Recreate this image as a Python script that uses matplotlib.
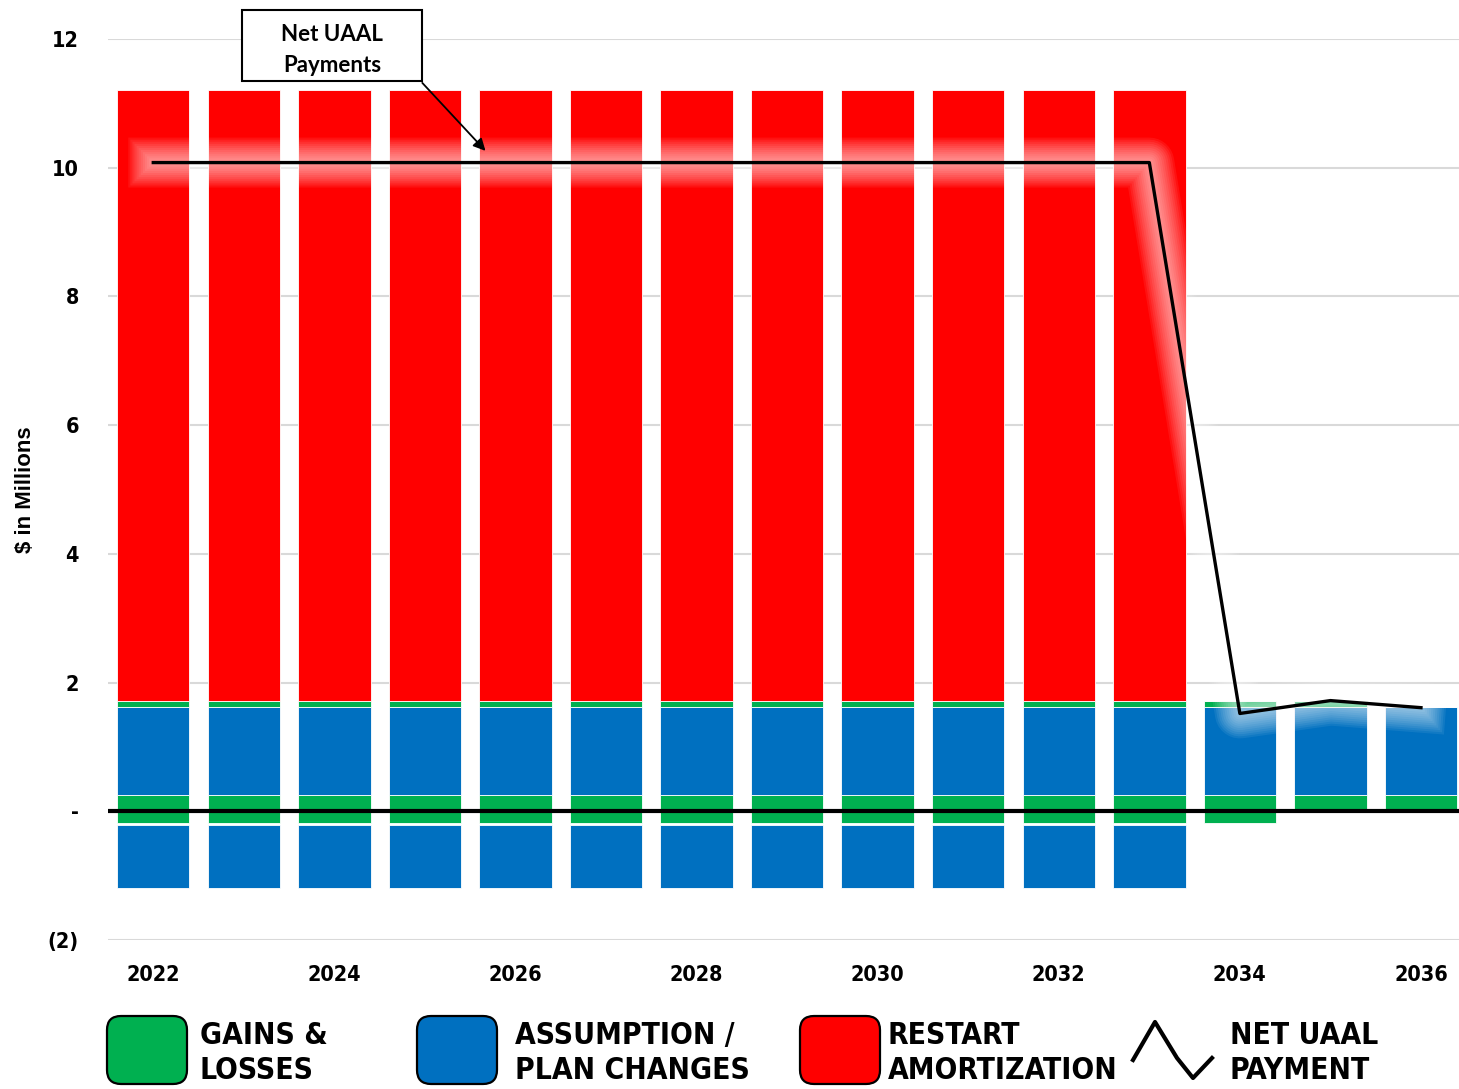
import matplotlib
matplotlib.use("Agg")
import matplotlib.pyplot as plt
import numpy as np
from matplotlib import patheffects as pe
from matplotlib.patches import FancyBboxPatch, Rectangle

# ---------------- data ----------------
years = list(range(2022, 2037))
gains_base = [0.25] * 15
assump_pos = [1.37] * 15
gains_top = [0.10] * 14 + [0.0]
restart = [9.48] * 12 + [0.0, 0.0, 0.0]
gains_neg = [-0.18] * 13 + [0.0, 0.0]
assump_neg = [-0.97] * 12 + [0.0, 0.0, 0.0]
net_uaal = [10.08] * 12 + [1.52, 1.72, 1.61]
xtick_years = [2022, 2024, 2026, 2028, 2030, 2032, 2034, 2036]
ytick_vals = [-2, 0, 2, 4, 6, 8, 10, 12]
ytick_labels = ["(2)", "-", "2", "4", "6", "8", "10", "12"]
legend_labels = ["GAINS &\nLOSSES", "ASSUMPTION /\nPLAN CHANGES", "RESTART\nAMORTIZATION", "NET UAAL\nPAYMENT"]

GREEN = "#00b050"
BLUE = "#0070c0"
RED = "#ff0000"
COND = dict(family="DejaVu Sans", stretch="condensed", weight="bold")

fig = plt.figure(figsize=(14.59, 10.89), dpi=100)
W, H = 1459, 1089
ax = fig.add_axes([108 / W, 1 - 940 / H, (W - 108) / W, (940 - 39) / H])

x = np.array(years)
bw = 0.8
ek = dict(edgecolor="white", linewidth=0.6, zorder=2)
b0 = np.array(gains_base)
b1 = b0 + np.array(assump_pos)
b2 = b1 + np.array(gains_top)
ax.bar(x, gains_base, bw, color=GREEN, **ek)
ax.bar(x, assump_pos, bw, bottom=b0, color=BLUE, **ek)
ax.bar(x, gains_top, bw, bottom=b1, color=GREEN, **ek)
ax.bar(x, restart, bw, bottom=b2, color=RED, **ek)
ax.bar(x, gains_neg, bw, color=GREEN, **ek)
ax.bar(x, assump_neg, bw, bottom=np.array(gains_neg) - 0.04, color=BLUE, **ek)

ax.axhline(0, color="black", linewidth=3, zorder=3)

glow = [pe.Stroke(linewidth=w, foreground="white", alpha=0.07) for w in range(36, 3, -3)] + [pe.Normal()]
ax.plot(x, net_uaal, color="black", linewidth=2.4, zorder=5, path_effects=glow)

ax.set_xlim(2021.5, 2036.42)
ax.set_ylim(-2, 12)
ax.set_yticks(ytick_vals)
ax.set_yticklabels(ytick_labels)
ax.set_xticks(xtick_years)
ax.set_xticklabels([str(y) for y in xtick_years])
ax.grid(axis="y", color="#d9d9d9", linewidth=1.5, zorder=0)
ax.set_axisbelow(True)
for s in ax.spines.values():
    s.set_visible(False)
ax.tick_params(axis="both", length=0)
ax.tick_params(axis="y", pad=21)
ax.tick_params(axis="x", pad=18)
for lab in ax.get_xticklabels() + ax.get_yticklabels():
    lab.set_fontfamily(COND["family"])
    lab.set_fontstretch(COND["stretch"])
    lab.set_fontweight("bold")
    lab.set_fontsize(15.5)
ax.set_ylabel("$ in Millions", fontsize=16, fontweight="bold", family=["Liberation Sans", "DejaVu Sans"])
ax.yaxis.set_label_coords(-0.053, 0.5)

# annotation box and arrow (data coords)
bx0, bx1 = 2022.98, 2024.97
by0, by1 = 11.35, 12.45
ax.add_patch(Rectangle((bx0, by0), bx1 - bx0, by1 - by0, facecolor="white",
                       edgecolor="black", linewidth=1.5, clip_on=False, zorder=6))
ax.text((bx0 + bx1) / 2, (by0 + by1) / 2 - 0.07, "Net UAAL\nPayments", ha="center", va="center",
        fontsize=16, fontweight="bold", family=["Lato", "DejaVu Sans"], linespacing=1.55,
        zorder=7, clip_on=False)
ax.annotate("", xy=(2025.69, 10.23), xytext=(2024.95, 11.35),
            arrowprops=dict(arrowstyle="-|>", color="black", lw=1.3, mutation_scale=18),
            zorder=7, annotation_clip=False)

# legend in pixel coordinates
lax = fig.add_axes([0, 0, 1, 1])
lax.set_xlim(0, W)
lax.set_ylim(H, 0)
lax.axis("off")
boxes = [(107, GREEN, 200), (417, BLUE, 515), (800, RED, 888)]
for (bx, col, tx), lab in zip(boxes, legend_labels[:3]):
    lax.add_patch(FancyBboxPatch((bx + 8, 1024), 64, 52,
                                 boxstyle="round,pad=8,rounding_size=14",
                                 facecolor=col, edgecolor="black", linewidth=1.6))
    lax.text(tx, 1053, lab, ha="left", va="center", fontsize=21.5, linespacing=1.3, **COND)
icon_x = [1133, 1155, 1177, 1193, 1212]
icon_y = [1060, 1022, 1058, 1078, 1058]
lax.plot(icon_x, icon_y, color="black", linewidth=3)
lax.text(1230, 1053, legend_labels[3], ha="left", va="center", fontsize=21.5, linespacing=1.3, **COND)

fig.savefig("out.png", dpi=100)
